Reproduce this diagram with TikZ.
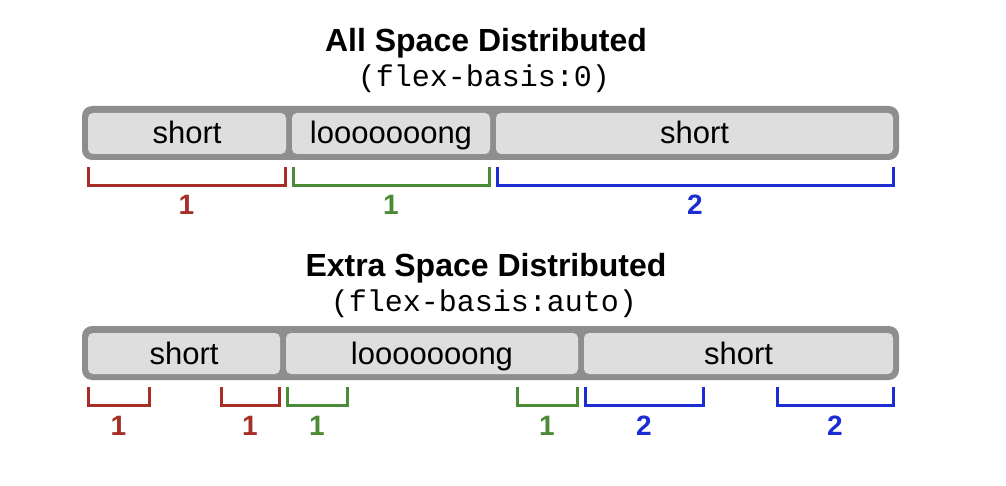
\documentclass[tikz,border=0pt]{standalone}
\usepackage{fontspec}
\setmainfont{Liberation Sans}
\setmonofont{Liberation Mono}
\usepackage{tikz}
\definecolor{borderGray}{HTML}{8E8E8E}
\definecolor{itemGray}{HTML}{DEDEDE}
\definecolor{redShare}{HTML}{A72D27}
\definecolor{greenShare}{HTML}{4C8B35}
\definecolor{blueShare}{HTML}{1B2DD3}

\begin{document}
\begin{tikzpicture}[x=1pt, y=-1pt,
    container/.style={fill=borderGray, rounded corners=10pt},
    item/.style={fill=itemGray, rounded corners=5pt, minimum height=41pt,
        inner sep=0pt, text height=24pt, text depth=3pt,
        font=\fontsize{31}{36}\selectfont},
    title/.style={anchor=base, font=\bfseries\fontsize{32}{38}\selectfont},
    code/.style={anchor=base, font=\ttfamily\fontsize{30}{36}\selectfont},
    share/.style={anchor=base, font=\bfseries\fontsize{28}{34}\selectfont}]

            \useasboundingbox (0,0) rectangle (1006,486);

            \newcommand{\ShareBracket}[6]{%
                \draw[#2, line width=3pt]
                (#3,#5) -- (#3,#5+18.5) -- (#4,#5+18.5) -- (#4,#5);
                \node[share, text=#2] (#1) at ({(#3+#4)/2},#5+48) {#6};
            }

            % flex-basis:0
            \node[title] (titleA) at (486,51.7) {All Space Distributed};
            \node[code] (codeA) at (484,86.7) {(flex-basis:0)};

            \fill[container] (82,106) rectangle (899,160);
            \node[item, minimum width=198pt] (a1) at (187,133.5) {short};
            \node[item, minimum width=198pt] (a2) at (391,133.5) {looooooong};
            \node[item, minimum width=397pt] (a3) at (694.5,133.5) {short};

            \ShareBracket{ra}{redShare}{88}{285}{167}{1}
            \ShareBracket{ga}{greenShare}{293}{489}{167}{1}
            \ShareBracket{ba}{blueShare}{497}{893}{167}{2}

            % flex-basis:auto
            \node[title] (titleB) at (486,276.7) {Extra Space Distributed};
            \node[code] (codeB) at (484,311.7) {(flex-basis:auto)};

            \fill[container] (82,326) rectangle (899,380);
            \node[item, minimum width=192pt] (b1) at (184,353.5) {short};
            \node[item, minimum width=292pt] (b2) at (432,353.5) {looooooong};
            \node[item, minimum width=309pt] (b3) at (738.5,353.5) {short};

            \ShareBracket{rb1}{redShare}{88}{149}{387}{1}
            \ShareBracket{rb2}{redShare}{221}{279}{387}{1}
            \ShareBracket{gb1}{greenShare}{287}{347}{387}{1}
            \ShareBracket{gb2}{greenShare}{517}{577}{387}{1}
            \ShareBracket{bb1}{blueShare}{585}{703}{387}{2}
            \ShareBracket{bb2}{blueShare}{777}{893}{387}{2}

        \end{tikzpicture}
\end{document}
